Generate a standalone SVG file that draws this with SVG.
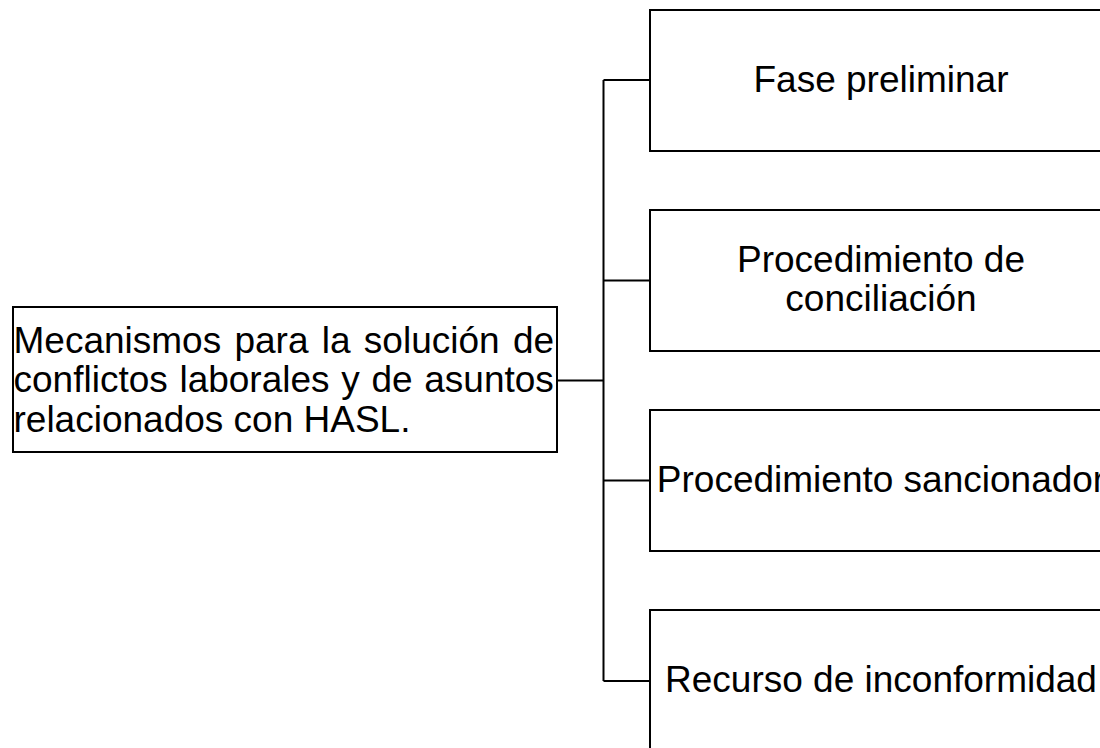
<svg xmlns="http://www.w3.org/2000/svg" width="1100" height="748" viewBox="0 0 1100 748">
<style>
.box{fill:#ffffff;stroke:#000000;stroke-width:2}
.lbl{font-family:"Liberation Sans",Arial,sans-serif;font-size:37px;fill:#000000}
.c{text-anchor:middle}
.edge{fill:none;stroke:#000000;stroke-width:2}
</style>
<rect width="1100" height="748" fill="#ffffff"/>
<g id="connectors">
<path class="edge" d="M557 380.5 H603.5"/>
<path class="edge" d="M603.5 80 V681"/>
<path class="edge" d="M603.5 80 H650"/>
<path class="edge" d="M603.5 280.5 H650"/>
<path class="edge" d="M603.5 480.5 H650"/>
<path class="edge" d="M603.5 681 H650"/>
</g>
<g id="root">
<rect class="box" x="13" y="307" width="544" height="145"/>
<text class="lbl" x="13.5" y="352.5" word-spacing="3">Mecanismos para la solución de</text>
<text class="lbl" x="13.5" y="392" word-spacing="1.4">conflictos laborales y de asuntos</text>
<text class="lbl" x="13.5" y="431.5">relacionados con HASL.</text>
</g>
<g id="n1">
<rect class="box" x="650" y="10" width="462" height="141"/>
<text class="lbl c" x="881" y="92">Fase preliminar</text>
</g>
<g id="n2">
<rect class="box" x="650" y="210" width="462" height="141"/>
<text class="lbl c" x="881" y="272">Procedimiento de</text>
<text class="lbl c" x="881" y="310.5">conciliación</text>
</g>
<g id="n3">
<rect class="box" x="650" y="410" width="462" height="141"/>
<text class="lbl c" x="881" y="492">Procedimiento sancionador</text>
</g>
<g id="n4">
<rect class="box" x="650" y="610" width="462" height="141"/>
<text class="lbl c" x="881" y="692">Recurso de inconformidad</text>
</g>
</svg>
